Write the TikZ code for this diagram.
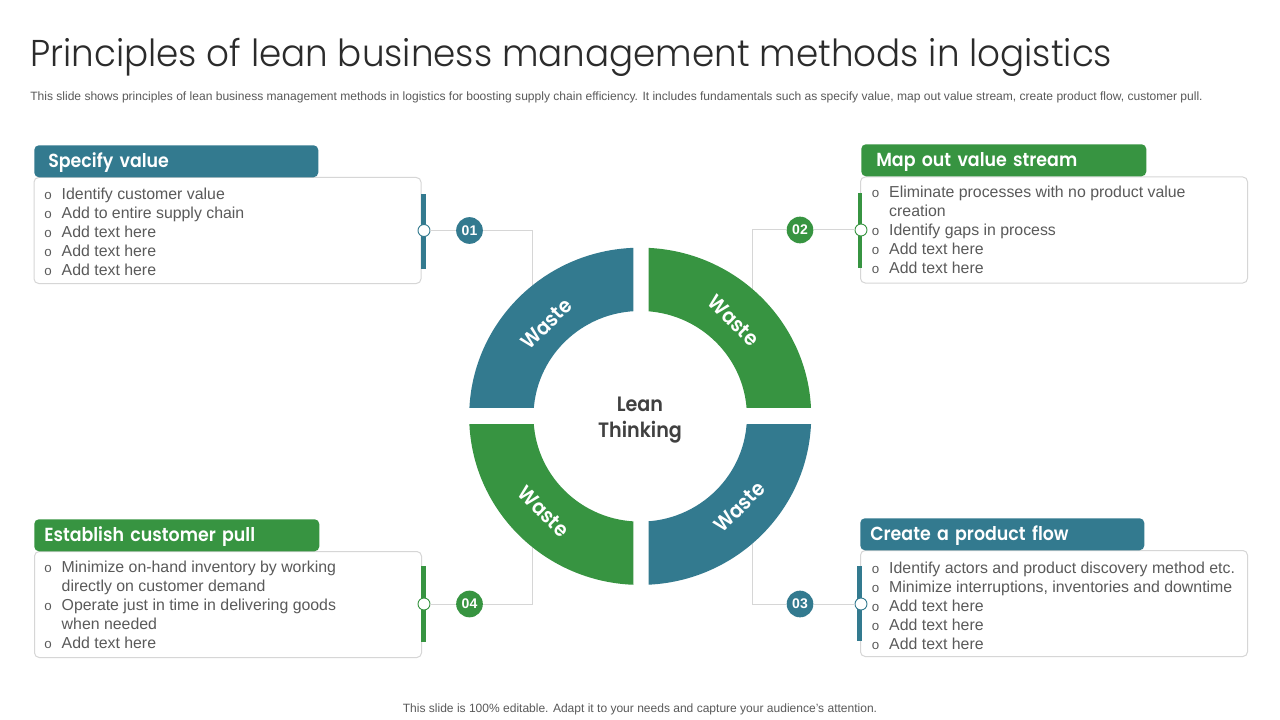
\documentclass[tikz,border=0pt]{standalone}
\usepackage{fontspec}
\setmainfont{Liberation Sans}
\newfontfamily\titlef[FakeStretch=0.957]{Poppins Light}
\newfontfamily\headf[FakeStretch=0.92]{Poppins SemiBold}
\definecolor{teal}{HTML}{337A8F}
\definecolor{leaf}{HTML}{379441}
\definecolor{rule}{HTML}{D6D6D6}
\definecolor{bodytxt}{HTML}{5A5A5A}
\definecolor{titletxt}{HTML}{2B2B2B}
\definecolor{leantxt}{HTML}{404040}
\newcommand{\bul}{\makebox[13.1pt][l]{{\fontsize{10}{10}\selectfont o}}}
\newcommand{\bulb}{\makebox[13.1pt][l]{}}
\newcommand{\ringpart}[5]{%
  \begin{scope}
    \clip (#1,#2) rectangle (#3,#4);
    \fill[#5,even odd rule] (640.2,416.3) ellipse [x radius=171,y radius=168.6]
                            (640.2,416.3) ellipse [x radius=106.7,y radius=105.3];
  \end{scope}}
\tikzset{
  hdrbox/.style={fill=#1,rounded corners=3.5pt,inner ysep=0pt,minimum height=24pt,
    text=white,align=left,font=\headf\fontsize{14.2}{16}\selectfont,
    text height=11.6pt,text depth=1.9pt},
  bodybox/.style={draw=rule,line width=0.75pt,fill=white,rounded corners=3.5pt,inner sep=0pt,
    minimum width=290.25pt,minimum height=79.5pt},
  bodytext/.style={anchor=north west,inner sep=0pt,align=left,text=bodytxt,
    font=\fontsize{11.9}{14.25}\selectfont},
  sidebar/.style={fill=#1,inner sep=0pt,minimum width=3.6pt,minimum height=56.5pt},
  dot/.style={circle,draw=#1,fill=white,line width=0.7pt,inner sep=0pt,minimum size=9pt},
  badge/.style={circle,fill=#1,inner sep=0pt,minimum size=20pt,text=white,
    font=\bfseries\fontsize{10.5}{12}\selectfont},
  conn/.style={draw=rule,line width=0.75pt},
  wastelabel/.style={text=white,inner sep=0pt,font=\headf\fontsize{15.5}{18}\selectfont},
}
\begin{document}
\begin{tikzpicture}[x=0.75pt,y=-0.75pt]
\useasboundingbox[fill=white] (0,0) rectangle (1280,720);

\node[anchor=base west,inner sep=0pt,text=titletxt,font=\titlef\fontsize{28}{32}\selectfont] (title) at (30,67) {Principles of lean business management methods in logistics};
\node[anchor=base west,inner sep=0pt,text=bodytxt,font=\fontsize{9.04}{10}\selectfont] (sub) at (30,101) {This slide shows principles of lean business management methods in logistics for boosting supply chain efficiency. It includes  fundamentals such as specify value, map out value stream, create product flow, customer pull.};
\node[anchor=base,inner sep=0pt,text=bodytxt,font=\fontsize{9.02}{10}\selectfont] (foot) at (640,712) {This slide is 100\% editable. Adapt it to your needs and capture your audience's attention.};

% anchors for connectors
\coordinate (e1) at (532.5,230.5);
\coordinate (r1) at (532.5,295);
\coordinate (e2) at (752.5,230);
\coordinate (r2) at (752.5,295);
\coordinate (e3) at (752.5,604);
\coordinate (r3) at (752.5,540);
\coordinate (e4) at (532.5,604);
\coordinate (r4) at (532.5,540);

% bodies
\node[bodybox] (b1) at (227.5,230.5) {};
\node[bodybox] (b2) at (1054,230) {};
\node[bodybox] (b3) at (1054,603.5) {};
\node[bodybox] (b4) at (228,604.5) {};

% sidebars
\node[sidebar=teal] (s1) at (423.5,231.5) {};
\node[sidebar=leaf] (s2) at (860,230.7) {};
\node[sidebar=teal] (s3) at (859.5,603.5) {};
\node[sidebar=leaf] (s4) at (423.5,604) {};

% dots and badges
\node[dot=teal] (d1) at (424,230.5) {};
\node[dot=leaf] (d2) at (861,230) {};
\node[dot=teal] (d3) at (861,604) {};
\node[dot=leaf] (d4) at (424,604) {};

\node[badge=teal] (n1) at (469.5,230.5) {01};
\node[badge=leaf] (n2) at (800,230) {02};
\node[badge=teal] (n3) at (800,604) {03};
\node[badge=leaf] (n4) at (469.5,604) {04};

\draw[conn] (d1) -- (n1);
\draw[conn] (n1) -- (e1) -- (r1);
\draw[conn] (d2) -- (n2);
\draw[conn] (n2) -- (e2) -- (r2);
\draw[conn] (d3) -- (n3);
\draw[conn] (n3) -- (e3) -- (r3);
\draw[conn] (d4) -- (n4);
\draw[conn] (n4) -- (e4) -- (r4);

% ring
\ringpart{440}{230}{633.3}{407.8}{teal}
\ringpart{648.5}{230}{840}{407.8}{leaf}
\ringpart{440}{424}{633.3}{600}{leaf}
\ringpart{648.5}{424}{840}{600}{teal}

\node[wastelabel,rotate=45] (w1) at (546.5,324) {Waste};
\node[wastelabel,rotate=-45] (w2) at (733.5,320.5) {Waste};
\node[wastelabel,rotate=-45] (w3) at (543.5,511.5) {Waste};
\node[wastelabel,rotate=45] (w4) at (739.5,507) {Waste};

\node[align=center,inner sep=0pt,text=leantxt,font=\headf\fontsize{15.6}{19.5}\selectfont] (lean) at (640,420) {Lean\\Thinking};

% headers
\node[hdrbox=teal,anchor=north west,text width=192pt,inner xsep=10.5pt] (h1) at (34,145) {Specify value};
\node[hdrbox=leaf,anchor=north west,text width=191.25pt,inner xsep=11.25pt] (h2) at (861,144) {Map out value stream};
\node[hdrbox=teal,anchor=north west,text width=198pt,inner xsep=7.5pt] (h3) at (860,518) {Create a product flow};
\node[hdrbox=leaf,anchor=north west,text width=198.75pt,inner xsep=7.5pt] (h4) at (34,519) {Establish customer pull};

% body texts
\node[bodytext] (t1) at (44,187.5) {\bul Identify customer value\\\bul Add to entire supply chain\\\bul Add text here\\\bul Add text here\\\bul Add text here};
\node[bodytext] (t2) at (871.5,185.5) {\bul Eliminate processes with no product value\\\bulb creation\\\bul Identify gaps in process\\\bul Add text here\\\bul Add text here};
\node[bodytext] (t3) at (871.5,561.5) {\bul Identify actors and product discovery method etc.\\\bul Minimize interruptions, inventories and downtime\\\bul Add text here\\\bul Add text here\\\bul Add text here};
\node[bodytext] (t4) at (44,560.5) {\bul Minimize on-hand inventory by working\\\bulb directly on customer demand\\\bul Operate just in time in delivering goods\\\bulb when needed\\\bul Add text here};
\end{tikzpicture}
\end{document}
